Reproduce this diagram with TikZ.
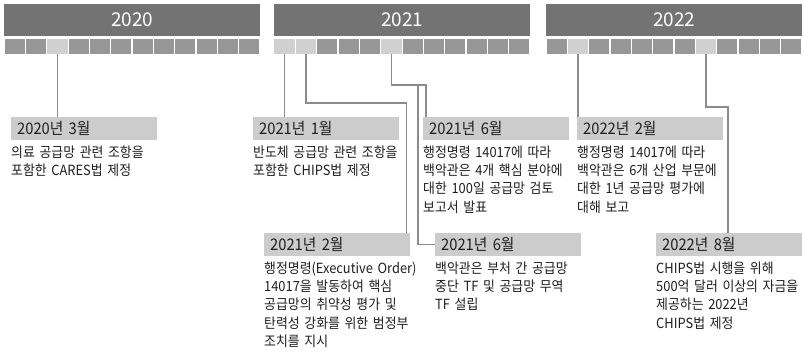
\documentclass[tikz,border=0pt]{standalone}
\usepackage{fontspec}
\setmainfont{Noto Sans CJK KR}[FakeStretch=0.92]
\newfontfamily\yearfont{Noto Sans CJK KR}
\newfontfamily\labfont{Noto Sans CJK KR}[FakeStretch=0.92]
\definecolor{yearbar}{HTML}{737373}
\definecolor{monthgray}{HTML}{979797}
\definecolor{monthhl}{HTML}{D0D0D0}
\definecolor{boxgray}{HTML}{CCCCCC}
\definecolor{linegray}{HTML}{8C8C8C}
\definecolor{ink}{HTML}{1E1E1E}
\begin{document}
\begin{tikzpicture}[x=1pt,y=-1pt,
  yearbox/.style={fill=yearbar, draw=none, anchor=north west, minimum width=256pt, minimum height=32pt, inner sep=0pt, text=white, font=\yearfont\fontsize{19pt}{22pt}\selectfont},
  monthbox/.style={fill=monthgray, draw=none, minimum width=20pt, minimum height=15.5pt, inner sep=0pt},
  labbox/.style={fill=boxgray, draw=none, anchor=north west, text width=134pt, inner xsep=6pt, inner ysep=0pt, minimum height=23pt, align=left, text=ink, font=\labfont\fontsize{16pt}{18pt}\selectfont},
  bodytext/.style={anchor=north west, inner sep=0pt, text width=180pt, align=left, text=ink, font=\fontsize{14pt}{18.3pt}\selectfont},
  conn/.style={draw=linegray, line width=1.6pt}
]
\useasboundingbox (0,0) rectangle (804,355);
% year bars
\node[yearbox] (y20) at (4,4) {2020};
\node[yearbox] (y21) at (274,4) {2021};
\node[yearbox] (y22) at (546,4) {2022};
% month squares
\foreach \yr/\xx in {20/4,21/274,22/546}{
  \foreach \m in {1,...,12}{
    \node[monthbox] (m\yr-\m) at ({\xx+(\m-0.5)*256/12},46.5) {};
  }
}
\foreach \n in {20-3,21-1,21-2,21-6,22-2,22-8}{
  \fill[monthhl] (m\n.south west) rectangle (m\n.north east);
}
% label boxes
\node[labbox] (b203) at (11,117) {2020년 3월};
\node[labbox] (b211) at (253,117) {2021년 1월};
\node[labbox] (b216a) at (423,117) {2021년 6월};
\node[labbox] (b222) at (577,117) {2022년 2월};
\node[labbox] (b212) at (264,233) {2021년 2월};
\node[labbox] (b216b) at (435,233) {2021년 6월};
\node[labbox] (b228) at (656,233) {2022년 8월};
% body texts
\node[bodytext] (t203) at ([yshift=-5pt]b203.south west) {의료 공급망 관련 조항을\\포함한 CARES법 제정};
\node[bodytext] (t211) at ([yshift=-5pt]b211.south west) {반도체 공급망 관련 조항을\\포함한 CHIPS법 제정};
\node[bodytext] (t216a) at ([yshift=-5pt]b216a.south west) {행정명령 14017에 따라\\백악관은 4개 핵심 분야에\\대한 100일 공급망 검토\\보고서 발표};
\node[bodytext] (t222) at ([yshift=-5pt]b222.south west) {행정명령 14017에 따라\\백악관은 6개 산업 부문에\\대한 1년 공급망 평가에\\대해 보고};
\node[bodytext] (t212) at ([yshift=-5pt]b212.south west) {행정명령(Executive Order)\\14017을 발동하여 핵심\\공급망의 취약성 평가 및\\탄력성 강화를 위한 범정부\\조치를 지시};
\node[bodytext] (t216b) at ([yshift=-5pt]b216b.south west) {백악관은 부처 간 공급망\\중단 TF 및 공급망 무역\\TF 설립};
\node[bodytext] (t228) at ([yshift=-5pt]b228.south west) {CHIPS법 시행을 위해\\500억 달러 이상의 자금을\\제공하는 2022년\\CHIPS법 제정};
% connectors
\coordinate (c1) at (406.5,103);
\coordinate (c2) at (426,85);
\coordinate (c3) at (418,85);
\coordinate (c4) at (728,107);
\draw[conn] (m20-3.south) -- (m20-3.south |- b203.north);
\draw[conn] (m21-1.south) -- (m21-1.south |- b211.north);
\draw[conn] (m21-2.south) |- (c1) -- (c1 |- b212.north);
\draw[conn] (m21-6.south) |- (c2) -- (c2 |- b216a.north);
\draw[conn] (c3) |- (b216b.west);
\draw[conn] (m22-2.south) -- (m22-2.south |- b222.north);
\draw[conn] (m22-8.south) |- (c4) -- (c4 |- b228.north);
\end{tikzpicture}
\end{document}
